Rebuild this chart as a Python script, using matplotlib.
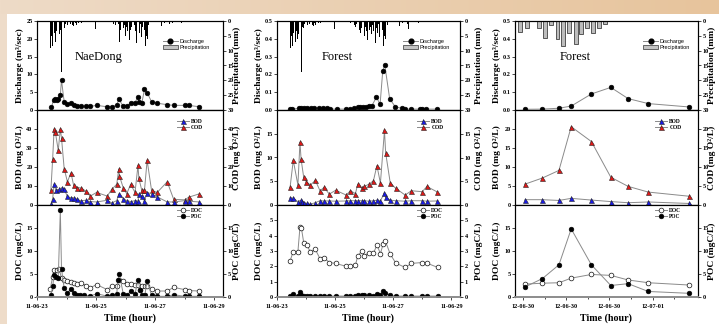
import numpy as np
import matplotlib
matplotlib.use("Agg")
import matplotlib.pyplot as plt
from matplotlib.patches import Rectangle, Patch
from matplotlib.lines import Line2D

# ---------------- data ----------------
# 2011 event (days of June 2011); precipitation shared by NaeDong and Forest panels
precip_t = [23.46, 23.50, 23.54, 23.58, 23.63, 23.67, 23.71, 23.75, 23.79, 23.83, 23.88, 23.92, 23.96,
            24.04, 24.08, 24.13, 24.17, 24.21, 24.25, 24.29, 24.33, 24.38, 24.42, 24.46, 24.50, 24.98,
            25.54, 25.58, 25.63, 25.67, 25.71, 25.75, 25.79, 25.83, 25.88, 25.92, 25.96, 26.00, 26.04,
            26.08, 26.13, 26.17, 26.21, 26.25, 26.29, 26.33, 26.38, 26.42, 26.46, 26.50, 26.54, 26.58,
            26.63, 26.67, 26.71, 26.75, 26.79, 27.23, 27.27, 27.31, 27.50, 27.54, 27.58, 27.83, 27.88, 27.92]
precip_mm = [9.0, 5.0, 8.5, 4.0, 7.0, 3.5, 6.0, 4.5, 3.0, 17.3, 2.0, 2.5, 1.0,
             1.5, 0.5, 1.0, 0.5, 1.5, 1.8, 0.8, 1.2, 0.5, 0.8, 0.3, 0.6, 2.8,
             0.8, 1.0, 0.5, 1.5, 2.0, 1.0, 7.0, 3.0, 4.0, 2.5, 1.5, 5.0, 2.0,
             3.5, 6.5, 3.0, 2.0, 4.5, 1.5, 3.5, 7.5, 2.5, 4.0, 1.0, 5.5, 2.0,
             3.0, 8.5, 5.0, 6.0, 1.5, 1.8, 0.3, 0.8, 1.0, 2.8, 0.6, 0.5, 0.8, 0.3]

# NaeDong
nd_q_t = [23.49, 23.56, 23.62, 23.67, 23.72, 23.79, 23.83, 23.92, 24.03, 24.15, 24.26, 24.37, 24.48,
          24.65, 24.80, 25.02, 25.38, 25.53, 25.70, 25.77, 25.92, 26.04, 26.17, 26.32, 26.42, 26.45,
          26.55, 26.64, 26.73, 26.88, 27.07, 27.41, 27.63, 28.00, 28.14, 28.50]
nd_q = [0.75, 2.8, 3.0, 2.8, 3.2, 4.2, 8.4, 2.3, 1.7, 1.9, 1.3, 1.0, 1.0,
        1.0, 1.0, 1.3, 0.9, 0.9, 1.3, 3.0, 1.1, 1.1, 1.9, 2.1, 3.6, 2.3,
        1.9, 5.8, 4.9, 2.3, 1.9, 1.5, 1.3, 1.3, 1.3, 0.9]
nd_cod_t = [23.47, 23.53, 23.58, 23.62, 23.72, 23.79, 23.83, 23.92, 24.03, 24.15, 24.24, 24.37, 24.48,
            24.65, 24.80, 25.02, 25.38, 25.53, 25.70, 25.77, 25.79, 25.92, 26.04, 26.17, 26.32, 26.42,
            26.45, 26.55, 26.64, 26.73, 26.88, 27.07, 27.41, 27.63, 28.00, 28.14, 28.50]
nd_cod = [7.7, 24.2, 40.0, 38.5, 28.7, 40.0, 35.3, 19.2, 12.2, 17.0, 10.4, 9.1, 9.0,
          7.4, 4.7, 6.6, 4.7, 8.2, 10.9, 19.0, 15.4, 9.1, 5.9, 10.9, 6.6, 20.8,
          14.0, 7.7, 7.7, 23.5, 7.7, 6.6, 12.2, 3.0, 2.7, 4.1, 5.9]
nd_bod_t = [23.47, 23.53, 23.58, 23.64, 23.75, 23.83, 23.92, 24.03, 24.15, 24.24, 24.37, 24.48, 24.65,
            24.80, 25.02, 25.38, 25.53, 25.70, 25.77, 25.92, 26.04, 26.17, 26.32, 26.42, 26.45, 26.55,
            26.64, 26.73, 26.88, 27.07, 27.41, 27.63, 28.00, 28.14, 28.50]
nd_bod = [0.5, 3.2, 11.0, 7.7, 8.2, 9.1, 8.2, 4.5, 3.8, 3.8, 3.0, 2.2, 2.5,
          1.8, 1.6, 2.5, 1.1, 2.3, 5.9, 3.4, 2.3, 1.8, 2.3, 2.0, 5.9, 4.5,
          2.3, 6.5, 5.9, 4.3, 1.6, 1.6, 2.3, 2.0, 1.6]
nd_doc_t = [23.45, 23.53, 23.58, 23.67, 23.75, 23.83, 23.92, 24.03, 24.15, 24.26, 24.37, 24.48, 24.65,
            24.80, 25.02, 25.38, 25.53, 25.70, 25.78, 25.92, 26.04, 26.17, 26.32, 26.42, 26.49, 26.56,
            26.65, 26.73, 26.88, 27.07, 27.41, 27.63, 28.00, 28.14, 28.50]
nd_doc = [1.8, 4.4, 5.9, 5.9, 6.1, 4.1, 3.6, 3.4, 3.2, 3.1, 2.8, 3.1, 2.5,
          2.0, 2.7, 1.6, 2.4, 2.3, 3.7, 3.4, 2.9, 2.9, 2.6, 2.7, 1.6, 2.4,
          2.4, 2.3, 1.8, 1.3, 1.3, 2.1, 1.6, 1.4, 1.3]
nd_poc_t = [23.47, 23.53, 23.58, 23.64, 23.72, 23.79, 23.83, 23.92, 24.03, 24.15, 24.24, 24.35, 24.46,
            24.60, 24.80, 25.02, 25.38, 25.53, 25.70, 25.74, 25.79, 25.92, 26.04, 26.17, 26.32, 26.42,
            26.49, 26.55, 26.65, 26.73, 26.88, 27.07, 27.41, 27.63, 28.00, 28.14, 28.50]
nd_poc = [0.4, 2.3, 4.8, 4.4, 4.1, 18.9, 6.1, 1.9, 0.9, 1.8, 0.9, 0.5, 0.4,
          0.4, 0.2, 0.7, 0.2, 0.4, 0.6, 3.8, 5.0, 0.7, 0.4, 1.2, 0.6, 3.8,
          1.6, 0.4, 0.4, 3.4, 0.4, 0.15, 0.15, 0.5, 0.15, 0.15, 0.15]

# Forest 2011
f1_q_t = [23.45, 23.53, 23.75, 23.84, 23.92, 24.03, 24.17, 24.28, 24.43, 24.57, 24.71, 24.82, 25.05,
          25.38, 25.50, 25.66, 25.78, 25.85, 25.97, 26.06, 26.17, 26.26, 26.42, 26.55, 26.64, 26.71,
          26.88, 27.07, 27.29, 27.41, 27.63, 27.91, 28.00, 28.14, 28.50]
f1_q = [0.005, 0.005, 0.010, 0.013, 0.010, 0.013, 0.010, 0.010, 0.010, 0.010, 0.010, 0.005, 0.005,
        0.005, 0.005, 0.010, 0.015, 0.019, 0.015, 0.015, 0.022, 0.022, 0.071, 0.034, 0.219, 0.253,
        0.062, 0.019, 0.009, 0.005, 0.005, 0.005, 0.005, 0.005, 0.005]
f1_cod_t = [23.45, 23.56, 23.72, 23.79, 23.83, 23.92, 24.01, 24.15, 24.32, 24.48, 24.62, 24.80, 25.02,
            25.38, 25.53, 25.70, 25.78, 25.92, 26.00, 26.17, 26.32, 26.44, 26.56, 26.70, 26.74, 26.90,
            27.09, 27.41, 27.63, 28.00, 28.16, 28.50]
f1_cod = [3.7, 9.4, 4.2, 13.2, 9.6, 5.8, 4.9, 4.2, 5.2, 3.0, 3.7, 2.3, 3.1,
          2.1, 3.0, 2.4, 4.4, 3.6, 3.9, 4.4, 5.1, 8.3, 4.6, 15.7, 11.0, 4.6,
          3.5, 2.1, 3.0, 2.8, 3.9, 2.8]
f1_bod_t = [23.45, 23.56, 23.72, 23.81, 23.87, 23.94, 24.03, 24.15, 24.32, 24.48, 24.62, 24.80, 25.02,
            25.38, 25.53, 25.70, 25.78, 25.92, 26.00, 26.17, 26.32, 26.44, 26.56, 26.70, 26.74, 26.90,
            27.09, 27.41, 27.63, 28.00, 28.16, 28.50]
f1_bod = [1.5, 1.45, 0.7, 1.0, 0.6, 0.35, 0.35, 0.15, 0.5, 0.9, 0.85, 0.85, 0.8,
          0.85, 0.9, 0.9, 0.9, 0.9, 0.9, 0.8, 0.9, 1.0, 0.85, 2.6, 1.6, 1.0,
          0.9, 0.8, 0.9, 0.9, 0.8, 0.85]
f1_oc_t = [23.45, 23.56, 23.72, 23.79, 23.84, 23.92, 24.03, 24.15, 24.32, 24.48, 24.62, 24.80, 25.02,
           25.38, 25.53, 25.70, 25.78, 25.92, 26.00, 26.17, 26.32, 26.44, 26.56, 26.65, 26.73, 26.90,
           27.09, 27.41, 27.63, 28.00, 28.16, 28.53]
f1_doc = [2.36, 2.96, 2.96, 4.55, 4.5, 3.54, 3.37, 2.94, 3.1, 2.5, 2.57, 2.25, 2.19,
          2.0, 2.0, 2.08, 2.68, 3.0, 2.68, 2.9, 2.85, 3.39, 2.83, 3.43, 3.65, 2.79,
          2.21, 1.93, 2.19, 2.25, 2.21, 1.93]
f1_poc = [0.06, 0.2, 0.06, 0.32, 0.15, 0.06, 0.06, 0.06, 0.06, 0.06, 0.06, 0.06, 0.06,
          0.06, 0.06, 0.06, 0.1, 0.1, 0.1, 0.1, 0.08, 0.2, 0.1, 0.36, 0.28, 0.1,
          0.06, 0.06, 0.06, 0.06, 0.06, 0.06]

# Forest 2012 (hours after 12-06-30 06:00)
f2_t = [0.3, 2.7, 5.0, 6.7, 9.5, 12.2, 14.6, 17.4, 23.1]
f2_q = [0.004, 0.005, 0.010, 0.022, 0.090, 0.127, 0.064, 0.036, 0.017]
f2_cod = [5.5, 7.1, 9.1, 20.6, 16.7, 7.3, 4.9, 3.4, 2.3]
f2_bod = [1.4, 1.4, 1.2, 1.75, 1.3, 0.9, 0.6, 0.8, 0.4]
f2_doc = [2.8, 3.0, 3.1, 4.1, 4.9, 4.7, 3.7, 3.1, 2.6]
f2_poc = [2.2, 4.0, 7.0, 14.8, 7.0, 2.5, 2.9, 1.2, 0.8]
f2_precip_t = [-0.4, 0.6, 2.2, 3.1, 3.9, 4.8, 5.6, 6.4, 7.3, 8.1, 8.9, 9.7, 10.6, 11.4]
f2_precip_mm = [3.6, 2.2, 2.5, 5.6, 1.4, 6.2, 8.5, 4.2, 7.6, 4.5, 2.5, 4.2, 2.2, 1.0]

ticks_2011 = [23, 25, 27, 29]
ticklabels_2011 = ["11-06-23", "11-06-25", "11-06-27", "11-06-29"]
ticks_2012 = [0, 6, 12, 18]
ticklabels_2012 = ["12-06-30", "12-06-30", "12-06-30", "12-07-01"]

# ---------------- figure ----------------
plt.rcParams['font.family'] = ['Liberation Serif', 'DejaVu Serif']
plt.rcParams['font.weight'] = 'bold'
plt.rcParams['axes.linewidth'] = 0.8

W, H = 719, 324
fig = plt.figure(figsize=(W / 100, H / 100), dpi=100)
fig.patch.set_facecolor('#eedcc9')

bg = fig.add_axes([0, 0, 1, 1])
bg.set_xlim(0, W)
bg.set_ylim(H, 0)
bg.axis('off')
bg.set_zorder(-10)
g = np.linspace(0, 1, 256)[:, None]
c1 = np.array([0xee, 0xdb, 0xc7]) / 255
c2 = np.array([0xe7, 0xc4, 0x9c]) / 255
grad = (c1[None, :] * (1 - g) + c2[None, :] * g)[None, :, :]
bg.imshow(grad, extent=(0, W, 14, 0), aspect='auto')
bg.add_patch(Rectangle((7, 14), W - 7, H - 14, fc='white', ec='none'))


def px_axes(l, t, r, b):
    return fig.add_axes([l / W, 1 - b / H, (r - l) / W, (b - t) / H])


LINE = '#8a8a8a'
TICK = dict(labelsize=4.5, length=2, width=0.5, pad=1.2)
SANS = dict(family='Liberation Sans', size=4.0, weight='normal')
SERIF = dict(family='Liberation Serif', size=4.0, weight='bold')

cols = [(37, 223), (277, 460), (515, 698)]
rows = [(21, 110), (110, 205), (205, 297)]

panels = [
    dict(title='NaeDong', qt=nd_q_t, q=nd_q, pt=precip_t, p=precip_mm, pw=0.03, pc='black', pe='none',
         qlim=25, qticks=[0, 5, 10, 15, 20, 25], qfmt='%d',
         codt=nd_cod_t, cod=nd_cod, bodt=nd_bod_t, bod=nd_bod, olim=50, oticks=[0, 10, 20, 30, 40],
         doct=nd_doc_t, doc=nd_doc, poct=nd_poc_t, poc=nd_poc, clim=20, cticks=[0, 5, 10, 15],
         xlim=(23.0, 29.3), xt=ticks_2011, xl=ticklabels_2011, xm=[24, 26, 28],
         leg=(0.677, 0.75, 0.75)),
    dict(title='Forest', qt=f1_q_t, q=f1_q, pt=precip_t, p=precip_mm, pw=0.03, pc='black', pe='none',
         qlim=0.5, qticks=[0, 0.1, 0.2, 0.3, 0.4, 0.5], qfmt='%.1f',
         codt=f1_cod_t, cod=f1_cod, bodt=f1_bod_t, bod=f1_bod, olim=20, oticks=[0, 5, 10, 15],
         doct=f1_oc_t, doc=f1_doc, poct=f1_oc_t, poc=f1_poc, clim=6, cticks=[0, 1, 2, 3, 4, 5],
         xlim=(23.0, 29.3), xt=ticks_2011, xl=ticklabels_2011, xm=[24, 26, 28],
         leg=(0.69, 0.765, 0.765)),
    dict(title='Forest', qt=f2_t, q=f2_q, pt=f2_precip_t, p=f2_precip_mm, pw=0.55, pc='#bdbdbd', pe='#222222',
         qlim=0.5, qticks=[0, 0.1, 0.2, 0.3, 0.4, 0.5], qfmt='%.1f',
         codt=f2_t, cod=f2_cod, bodt=f2_t, bod=f2_bod, olim=25, oticks=[0, 5, 10, 15, 20],
         doct=f2_t, doc=f2_doc, poct=f2_t, poc=f2_poc, clim=20, cticks=[0, 5, 10, 15],
         xlim=(-1.1, 24.3), xt=ticks_2012, xl=ticklabels_2012, xm=[3, 9, 15, 21],
         leg=(0.70, 0.765, 0.765)),
]

left_lab_x = [20, 259, 497]
right_lab_x = [237, 479, 712]
LAB = 6.8

for ci, (P, (l, r)) in enumerate(zip(panels, cols)):
    # ---- top: discharge + precipitation ----
    ax = px_axes(l, rows[0][0], r, rows[0][1])
    tw = ax.twinx()
    tw.bar(P['pt'], P['p'], width=P['pw'], color=P['pc'], edgecolor=P['pe'], linewidth=0.5, align='center')
    tw.set_ylim(30, 0)
    tw.set_yticks([0, 5, 10, 15, 20, 25, 30])
    ax.plot(P['qt'], P['q'], '-', color=LINE, lw=0.7, marker='o', ms=3.4, mfc='black', mec='black', mew=0.4)
    ax.set_zorder(tw.get_zorder() + 1)
    ax.patch.set_visible(False)
    ax.set_ylim(0, P['qlim'])
    ax.set_yticks(P['qticks'])
    ax.set_yticklabels([P['qfmt'] % v for v in P['qticks']])
    ax.set_xlim(*P['xlim'])
    for a in (ax, tw):
        a.tick_params(**TICK)
        a.tick_params(axis='x', bottom=False, labelbottom=False)
    ax.text(0.33, 0.60, P['title'], transform=ax.transAxes, ha='center', va='center',
            fontsize=9, fontweight='normal', family='Liberation Serif')
    h = [Line2D([], [], color=LINE, lw=0.7, marker='o', ms=3.4, mfc='black', mec='black'),
         Patch(fc='#c4c4c4', ec='#333333', lw=0.5)]
    ax.legend(h, ['Discharge', 'Precipitation'], loc='upper left', bbox_to_anchor=(P['leg'][0], 0.80),
              frameon=False, prop=SANS, handlelength=2.7, handleheight=0.8, handletextpad=0.3,
              labelspacing=0.25, borderaxespad=0, borderpad=0)

    # ---- middle: BOD / COD ----
    am = px_axes(l, rows[1][0], r, rows[1][1])
    tm = am.twinx()
    am.plot(P['codt'], P['cod'], '-', color=LINE, lw=0.7, marker='^', ms=3.6, mfc='#e01818', mec='#222222',
            mew=0.4, label='COD', zorder=3)
    am.plot(P['bodt'], P['bod'], '-', color=LINE, lw=0.7, marker='^', ms=3.6, mfc='#1a1ae6', mec='#222222',
            mew=0.4, label='BOD', zorder=4)
    for a in (am, tm):
        a.set_ylim(0, P['olim'])
        a.set_yticks(P['oticks'])
        a.tick_params(**TICK)
        a.tick_params(axis='x', bottom=False, labelbottom=False)
    am.set_xlim(*P['xlim'])
    hs, ls = am.get_legend_handles_labels()
    am.legend(hs[::-1], ls[::-1], loc='upper left', bbox_to_anchor=(P['leg'][1], 0.91), frameon=False,
              prop=SERIF, handlelength=2.2, handletextpad=0.4, labelspacing=0.25, borderaxespad=0, borderpad=0)

    # ---- bottom: DOC / POC ----
    ab = px_axes(l, rows[2][0], r, rows[2][1])
    tb = ab.twinx()
    ab.plot(P['doct'], P['doc'], '-', color=LINE, lw=0.7, marker='o', ms=3.4, mfc='white', mec='#111111',
            mew=0.5, label='DOC', zorder=3)
    ab.plot(P['poct'], P['poc'], '-', color=LINE, lw=0.7, marker='o', ms=3.4, mfc='black', mec='black',
            mew=0.4, label='POC', zorder=4)
    for a in (ab, tb):
        a.set_ylim(0, P['clim'])
        a.set_yticks(P['cticks'])
        a.tick_params(**TICK)
        a.spines['bottom'].set_color('#8f8f8f')
        a.spines['bottom'].set_linewidth(1.3)
    ab.set_xlim(*P['xlim'])
    ab.set_xticks(P['xt'])
    ab.set_xticklabels(P['xl'])
    ab.set_xticks(P['xm'], minor=True)
    ab.tick_params(axis='x', which='minor', length=1.5, width=0.5)
    ab.tick_params(axis='x', pad=3)
    ab.legend(loc='upper left', bbox_to_anchor=(P['leg'][2], 0.97), frameon=False,
              prop=SERIF, handlelength=2.2, handletextpad=0.4, labelspacing=0.25, borderaxespad=0, borderpad=0)

    # ---- axis labels ----
    lx, rx = left_lab_x[ci], right_lab_x[ci]
    for (t0, t1), ltxt, rtxt in zip(rows,
                                    ['Discharge (m³/sec)', 'BOD (mg O²/L)', 'DOC (mgC/L)'],
                                    ['Precipitation (mm)', 'COD (mg O²/L)', 'POC (mgC/L)']):
        yc = 1 - (t0 + t1) / 2 / H
        fig.text(lx / W, yc, ltxt, rotation=90, ha='center', va='center', fontsize=LAB, fontweight='bold')
        fig.text(rx / W, yc, rtxt, rotation=90, ha='center', va='center', fontsize=LAB, fontweight='bold')
    fig.text((l + r) / 2 / W, 1 - 318 / H, 'Time (hour)', ha='center', va='center', fontsize=7.2,
             fontweight='bold')

fig.savefig('out.png', dpi=100, facecolor=fig.get_facecolor())
